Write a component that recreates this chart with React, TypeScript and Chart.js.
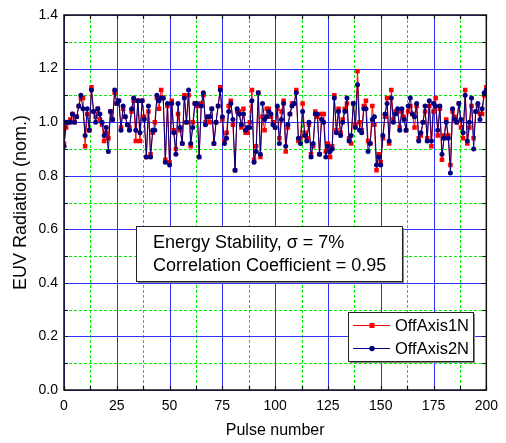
import React, { useEffect, useRef } from "react";
import { Chart, registerables } from "chart.js";

Chart.register(...registerables);

const PULSES: number[] = Array.from({ length: 201 }, (_, i) => i);

const OFF_AXIS_1N: number[] = [
  0.92, 0.98, 1.00, 1.01, 1.03, 1.00, 1.02, 1.06, 1.09, 1.09,
  0.91, 1.03, 0.97, 1.13, 1.04, 1.02, 1.05, 1.01, 0.99, 0.93,
  0.96, 0.94, 1.04, 1.01, 1.11, 1.07, 1.08, 0.98, 1.05, 1.02,
  0.99, 0.98, 1.04, 1.08, 0.93, 1.08, 0.93, 1.08, 1.02, 0.87,
  1.04, 0.88, 0.96, 1.00, 1.09, 1.05, 1.12, 1.09, 0.86, 1.06,
  0.85, 1.08, 0.97, 0.90, 1.03, 0.97, 0.92, 1.10, 1.00, 1.10,
  0.91, 1.00, 1.07, 1.06, 0.87, 1.07, 1.10, 1.00, 1.02, 1.00,
  1.05, 0.92, 1.00, 1.06, 1.13, 1.01, 0.93, 0.96, 1.06, 1.08,
  0.99, 0.82, 1.04, 1.04, 0.98, 1.05, 0.96, 0.96, 1.00, 1.12,
  0.86, 0.91, 1.11, 0.87, 1.02, 0.97, 1.05, 1.05, 1.02, 1.00,
  0.98, 1.05, 0.94, 1.04, 1.08, 0.89, 0.98, 1.03, 1.07, 1.07,
  1.12, 0.93, 0.94, 1.07, 0.96, 0.94, 0.99, 0.88, 0.91, 1.04,
  1.02, 0.88, 1.03, 1.03, 0.89, 0.92, 0.87, 0.91, 1.10, 0.97,
  1.05, 0.96, 1.01, 1.05, 1.07, 0.94, 0.92, 1.07, 0.99, 1.19,
  1.00, 0.97, 1.06, 1.08, 0.93, 0.92, 1.06, 0.99, 0.82, 0.88,
  0.85, 0.94, 1.02, 1.09, 0.92, 1.12, 1.01, 1.04, 1.04, 0.98,
  1.04, 1.02, 0.97, 1.04, 1.06, 1.03, 0.98, 1.06, 0.94, 0.95,
  1.00, 1.04, 0.94, 1.06, 0.91, 1.04, 1.09, 0.95, 1.05, 0.86,
  0.95, 1.01, 0.95, 0.84, 1.04, 1.02, 1.00, 1.07, 0.98, 0.94,
  1.12, 0.92, 0.98, 1.06, 0.94, 1.04, 1.06, 1.03, 1.03, 1.10,
  1.13,
];

const OFF_AXIS_2N: number[] = [
  0.91, 1.00, 1.00, 1.00, 1.03, 1.00, 1.02, 1.06, 1.10, 1.05,
  0.95, 1.05, 0.97, 1.12, 1.04, 1.00, 1.05, 1.03, 1.00, 0.95,
  0.98, 0.89, 1.04, 1.01, 1.12, 1.07, 1.08, 0.97, 1.06, 1.02,
  0.99, 0.97, 1.05, 1.09, 0.97, 1.08, 0.96, 1.08, 1.01, 0.87,
  1.06, 0.87, 0.97, 0.97, 1.10, 1.08, 1.09, 1.09, 0.85, 1.07,
  0.84, 1.07, 0.96, 0.88, 1.07, 0.98, 0.92, 1.09, 1.00, 1.12,
  0.92, 0.98, 1.07, 1.07, 0.87, 1.06, 1.11, 0.99, 1.02, 1.02,
  1.05, 0.92, 1.00, 1.06, 1.12, 1.02, 0.92, 0.94, 1.04, 1.07,
  1.01, 0.82, 1.05, 1.03, 0.99, 1.03, 0.97, 0.98, 0.98, 1.08,
  0.85, 0.89, 1.11, 0.88, 1.07, 1.01, 1.02, 1.04, 1.03, 0.99,
  0.98, 1.06, 0.92, 1.01, 1.07, 0.91, 0.99, 1.03, 1.06, 1.07,
  1.11, 0.94, 0.92, 1.04, 0.95, 0.93, 1.00, 0.87, 0.92, 1.03,
  1.03, 0.88, 1.01, 1.00, 0.87, 0.91, 0.89, 0.90, 1.09, 0.96,
  1.04, 0.95, 1.00, 1.04, 1.09, 0.93, 0.95, 1.07, 0.98, 1.14,
  0.97, 0.96, 1.05, 1.05, 0.89, 0.92, 1.01, 1.02, 0.84, 0.87,
  0.84, 0.95, 1.03, 1.07, 0.93, 1.09, 1.00, 1.03, 1.05, 0.97,
  1.05, 1.01, 0.97, 1.06, 1.09, 1.03, 1.02, 1.07, 0.93, 0.96,
  1.00, 1.06, 0.93, 1.08, 0.93, 1.07, 1.06, 0.97, 1.06, 0.88,
  0.94, 1.00, 0.94, 0.81, 1.05, 1.01, 1.00, 1.07, 1.01, 0.96,
  1.10, 0.93, 1.00, 1.09, 0.90, 1.04, 1.07, 1.01, 1.05, 1.11,
  1.12,
];

const SERIES_NAMES = ["OffAxis1N", "OffAxis2N"];
const X_MAJOR_TICKS = [0, 25, 50, 75, 100, 125, 150, 175, 200];
const X_MINOR_TICKS = [12.5, 37.5, 62.5, 87.5, 112.5, 137.5, 162.5, 187.5];
const Y_MAJOR_TICKS = [0, 0.2, 0.4, 0.6, 0.8, 1.0, 1.2, 1.4];
const Y_MINOR_TICKS = [0.1, 0.3, 0.5, 0.7, 0.9, 1.1, 1.3];
const ANNOTATION_LINES = ["Energy Stability, \u03c3 = 7%", "Correlation Coefficient = 0.95"];
const X_TITLE = "Pulse number";
const Y_TITLE = "EUV Radiation (nom.)";

const FONT = "'Liberation Sans', Arial, sans-serif";
const RED = "#ff0000";
const NAVY = "#000080";

const decorPlugin = {
  id: "decor",
  beforeDatasetsDraw(chart: any) {
    const { ctx, chartArea: a, scales } = chart;
    const xs = scales.x;
    const ys = scales.y;
    ctx.save();
    ctx.lineWidth = 1;
    ctx.strokeStyle = "#00ee00";
    ctx.setLineDash([3, 2]);
    X_MINOR_TICKS.forEach((v) => {
      const px = Math.round(xs.getPixelForValue(v)) + 0.5;
      ctx.beginPath();
      ctx.moveTo(px, a.top);
      ctx.lineTo(px, a.bottom);
      ctx.stroke();
    });
    Y_MINOR_TICKS.forEach((v) => {
      const py = Math.round(ys.getPixelForValue(v)) + 0.5;
      ctx.beginPath();
      ctx.moveTo(a.left, py);
      ctx.lineTo(a.right, py);
      ctx.stroke();
    });
    ctx.setLineDash([]);
    ctx.strokeStyle = "#3030ff";
    X_MAJOR_TICKS.forEach((v) => {
      const px = Math.round(xs.getPixelForValue(v)) + 0.5;
      ctx.beginPath();
      ctx.moveTo(px, a.top);
      ctx.lineTo(px, a.bottom);
      ctx.stroke();
    });
    Y_MAJOR_TICKS.forEach((v) => {
      const py = Math.round(ys.getPixelForValue(v)) + 0.5;
      ctx.beginPath();
      ctx.moveTo(a.left, py);
      ctx.lineTo(a.right, py);
      ctx.stroke();
    });
    ctx.restore();
  },
  afterDatasetsDraw(chart: any) {
    const { ctx, chartArea: a, scales } = chart;
    const xs = scales.x;
    const ys = scales.y;
    ctx.save();
    ctx.strokeStyle = "#111";
    ctx.lineWidth = 1.5;
    ctx.strokeRect(a.left, a.top, a.right - a.left, a.bottom - a.top);
    ctx.lineWidth = 1.2;
    const tl = 4;
    [...X_MAJOR_TICKS, ...X_MINOR_TICKS].forEach((v) => {
      const px = Math.round(xs.getPixelForValue(v)) + 0.5;
      ctx.beginPath();
      ctx.moveTo(px, a.bottom);
      ctx.lineTo(px, a.bottom - tl);
      ctx.moveTo(px, a.top);
      ctx.lineTo(px, a.top + tl);
      ctx.stroke();
    });
    [...Y_MAJOR_TICKS, ...Y_MINOR_TICKS].forEach((v) => {
      const py = Math.round(ys.getPixelForValue(v)) + 0.5;
      ctx.beginPath();
      ctx.moveTo(a.left, py);
      ctx.lineTo(a.left + tl, py);
      ctx.moveTo(a.right, py);
      ctx.lineTo(a.right - tl, py);
      ctx.stroke();
    });

    const bx = 136, by = 226, bw = 266, bh = 55;
    ctx.fillStyle = "#888";
    ctx.fillRect(bx + 2, by + 2, bw, bh);
    ctx.fillStyle = "#fff";
    ctx.fillRect(bx, by, bw, bh);
    ctx.strokeStyle = "#222";
    ctx.lineWidth = 1;
    ctx.strokeRect(bx + 0.5, by + 0.5, bw, bh);
    ctx.fillStyle = "#000";
    ctx.font = `18px ${FONT}`;
    ctx.textBaseline = "middle";
    ctx.textAlign = "left";
    ctx.fillText(ANNOTATION_LINES[0], 153, 243);
    ctx.fillText(ANNOTATION_LINES[1], 153, 266);

    const lx = 348, ly = 312, lw = 125, lh = 49;
    ctx.fillStyle = "#888";
    ctx.fillRect(lx + 2, ly + 2, lw, lh);
    ctx.fillStyle = "#fff";
    ctx.fillRect(lx, ly, lw, lh);
    ctx.strokeStyle = "#222";
    ctx.strokeRect(lx + 0.5, ly + 0.5, lw, lh);
    const rows = [
      { name: SERIES_NAMES[0], color: RED, y: 325, shape: "square" },
      { name: SERIES_NAMES[1], color: NAVY, y: 348, shape: "circle" },
    ];
    rows.forEach((r) => {
      ctx.strokeStyle = r.color;
      ctx.lineWidth = 1;
      ctx.beginPath();
      ctx.moveTo(353, r.y + 0.5);
      ctx.lineTo(390, r.y + 0.5);
      ctx.stroke();
      ctx.fillStyle = r.color;
      if (r.shape === "square") {
        ctx.fillRect(369.5, r.y - 2, 5, 5);
      } else {
        ctx.beginPath();
        ctx.arc(372, r.y + 0.5, 2.7, 0, Math.PI * 2);
        ctx.fill();
      }
      ctx.fillStyle = "#000";
      ctx.font = `16.5px ${FONT}`;
      ctx.fillText(r.name, 395, r.y + 1);
    });
    ctx.restore();
  },
};

export default function App() {
  const ref = useRef<HTMLCanvasElement | null>(null);
  useEffect(() => {
    if (!ref.current) return;
    const chart = new Chart(ref.current, {
      type: "line",
      data: {
        datasets: [
          {
            label: SERIES_NAMES[0],
            data: PULSES.map((p, i) => ({ x: p, y: OFF_AXIS_1N[i] })),
            borderColor: RED,
            backgroundColor: RED,
            borderWidth: 1,
            pointStyle: "rect",
            pointRadius: 3.2,
            pointBorderWidth: 0,
            tension: 0,
            order: 2,
          },
          {
            label: SERIES_NAMES[1],
            data: PULSES.map((p, i) => ({ x: p, y: OFF_AXIS_2N[i] })),
            borderColor: NAVY,
            backgroundColor: NAVY,
            borderWidth: 1,
            pointStyle: "circle",
            pointRadius: 2.5,
            pointBorderWidth: 0,
            tension: 0,
            order: 1,
          },
        ],
      },
      options: {
        responsive: false,
        animation: false,
        devicePixelRatio: 1,
        layout: { padding: { left: 0, right: 15, top: 15, bottom: 0 } },
        plugins: { legend: { display: false }, tooltip: { enabled: false } },
        scales: {
          x: {
            type: "linear",
            min: 0,
            max: 200,
            grid: { display: false, drawTicks: false },
            border: { display: false },
            ticks: {
              stepSize: 25,
              color: "#000",
              font: { family: FONT, size: 14 },
              padding: 8,
              maxRotation: 0,
              autoSkip: false,
            },
            title: {
              display: true,
              text: X_TITLE,
              color: "#000",
              font: { family: FONT, size: 16 },
              padding: { top: 0, bottom: 2.4 },
            },
            afterFit: (s: any) => {
              s.height = 53;
            },
          },
          y: {
            type: "linear",
            min: 0,
            max: 1.4,
            grid: { display: false, drawTicks: false },
            border: { display: false },
            ticks: {
              stepSize: 0.2,
              color: "#000",
              font: { family: FONT, size: 14 },
              padding: 6,
              callback: (v: any) => Number(v).toFixed(1),
            },
            title: {
              display: true,
              text: Y_TITLE,
              color: "#000",
              font: { family: FONT, size: 18 },
              padding: { top: 10, bottom: 0 },
            },
            afterFit: (s: any) => {
              s.width = 64;
            },
          },
        },
      },
      plugins: [decorPlugin],
    } as any);
    return () => chart.destroy();
  }, []);
  return (
    <div style={{ position: "absolute", left: 0, top: 0, width: 506, height: 443, background: "#fff" }}>
      <canvas ref={ref} width={506} height={443} style={{ width: 506, height: 443, display: "block" }} />
    </div>
  );
}
